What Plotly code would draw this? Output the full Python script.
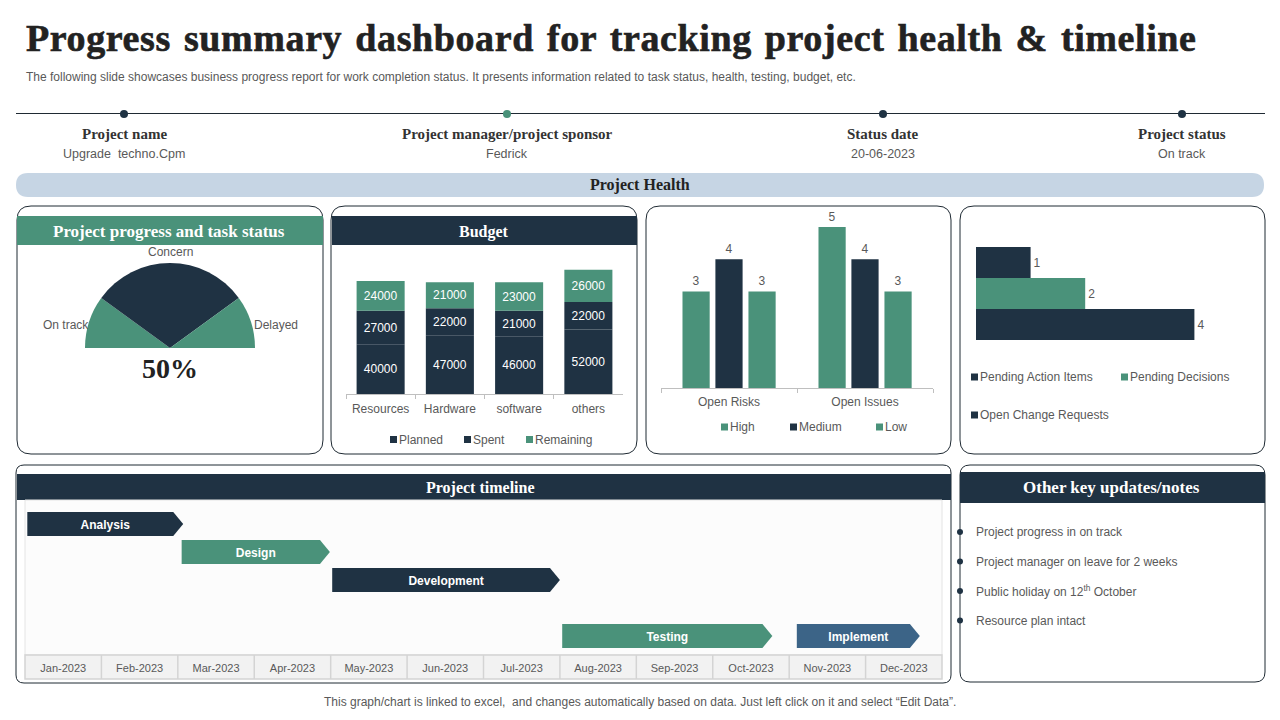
import plotly.graph_objects as go

NAVY = '#1f3243'
GREEN = '#4a927a'
BLUE = '#3c6487'
GREY = '#595959'
SANS = 'Liberation Sans'
SERIF = 'Liberation Serif'

# gauge
gauge_labels = ['On track', 'Concern', 'Delayed', '']
gauge_values = [20, 60, 20, 100]

# budget
budget_cats = ['Resources', 'Hardware', 'software', 'others']
planned = [40000, 47000, 46000, 52000]
spent = [27000, 22000, 21000, 22000]
remaining = [24000, 21000, 23000, 26000]

# risks and issues
risk_cats = ['Open Risks', 'Open Issues']
risk_high = [3, 5]
risk_medium = [4, 4]
risk_low = [3, 3]

# pending items
pending_cats = ['Pending Action Items', 'Pending Decisions', 'Open Change Requests']
pending_values = [1, 2, 4]

# timeline, in months from the start of Jan-2023
months = ['Jan-2023', 'Feb-2023', 'Mar-2023', 'Apr-2023', 'May-2023', 'Jun-2023',
          'Jul-2023', 'Aug-2023', 'Sep-2023', 'Oct-2023', 'Nov-2023', 'Dec-2023']
tasks = ['Analysis', 'Design', 'Development', 'Testing', 'Implement']
task_start = [0.03, 2.05, 4.02, 7.03, 10.1]
task_end = [2.07, 3.99, 7.0, 9.78, 11.71]
task_row = [0, 1, 2, 4, 4]
task_color = [NAVY, GREEN, NAVY, GREEN, BLUE]

notes = ['Project progress in on track', 'Project manager on leave for 2 weeks',
         'Public holiday on 12<sup>th</sup> October', 'Resource plan intact']
note_y = [532, 561.5, 591, 620.5]

info_x = [124, 507, 883, 1182]
info_dot = [NAVY, GREEN, NAVY, NAVY]
info_head = ['Project name', 'Project manager/project sponsor', 'Status date', 'Project status']
info_value = ['Upgrade  techno.Cpm', 'Fedrick', '20-06-2023', 'On track']


def fx(v):
    return v / 1280


def fy(v):
    return 1 - v / 720


shapes = []
annots = []


def text(x, y, s, size=12, color=GREY, family=SANS, anchor='center'):
    # annotations carry about 2px of padding on the anchored side
    if anchor == 'left':
        x -= 2
    if anchor == 'right':
        x += 2
    annots.append(dict(x=fx(x), y=fy(y), xref='paper', yref='paper', text=s, showarrow=False,
                       xanchor=anchor, yanchor='middle', align=anchor,
                       font=dict(family=family, size=size, color=color)))


def rect(x0, y0, x1, y1, fill, line=None, width=1):
    shapes.append(dict(type='rect', xref='paper', yref='paper', x0=fx(x0), x1=fx(x1), y0=fy(y0), y1=fy(y1),
                       fillcolor=fill, line=dict(color=line, width=width) if line else dict(width=0),
                       layer='below'))


def rounded(x0, y0, x1, y1, r, fill='white', line='#1f2a33', width=1):
    # rounded box as an svg path, in paper fractions
    rx, ry = fx(r), r / 720
    a, b, c, d = fx(x0), fx(x1), fy(y0), fy(y1)
    path = (f'M {a + rx} {c} L {b - rx} {c} Q {b} {c} {b} {c - ry} L {b} {d + ry} Q {b} {d} {b - rx} {d} '
            f'L {a + rx} {d} Q {a} {d} {a} {d + ry} L {a} {c - ry} Q {a} {c} {a + rx} {c} Z')
    shapes.append(dict(type='path', xref='paper', yref='paper', path=path, fillcolor=fill,
                       line=dict(color=line, width=width) if width else dict(width=0), layer='below'))


def dot(x, y, r, color):
    shapes.append(dict(type='circle', xref='paper', yref='paper', x0=fx(x - r), x1=fx(x + r),
                       y0=fy(y + r), y1=fy(y - r), fillcolor=color, line=dict(width=0)))


def legend_item(x, y, color, label):
    rect(x, y - 3.5, x + 7, y + 3.5, color)
    text(x + 9, y, label, anchor='left')


# title block
annots.append(dict(x=fx(24), y=fy(38), xref='paper', yref='paper', showarrow=False, xanchor='left', yanchor='middle',
                   text='<b><span style="letter-spacing:0.6px;word-spacing:3px;stroke:#222222;stroke-width:0.6px">'
                        'Progress summary dashboard for tracking project health &amp; timeline</span></b>',
                   font=dict(family=SERIF, size=38, color='#222222')))
text(26, 77, 'The following slide showcases business progress report for work completion status. It presents '
             'information related to task status, health, testing, budget, etc.', size=12, anchor='left')

shapes.append(dict(type='line', xref='paper', yref='paper', x0=fx(16), x1=fx(1265), y0=fy(113.5), y1=fy(113.5),
                   line=dict(color='#1f2a33', width=1), layer='below'))
for i in range(len(info_x)):
    dot(info_x[i], 114, 4, info_dot[i])
    text(info_x[i], 134, '<b>' + info_head[i] + '</b>', size=15, color='#333333', family=SERIF)
    text(info_x[i], 154, info_value[i], size=12.5)

rounded(16, 173, 1264, 197, 12, fill='#c6d5e4', width=0)
text(640, 185, '<b>Project Health</b>', size=16, color='#222222', family=SERIF)

# panels
rounded(17, 206, 323, 454, 14)
rounded(331, 206, 637, 454, 14)
rounded(646, 206, 951, 454, 14)
rounded(960, 206, 1265, 454, 14)
rounded(16, 465, 951, 683, 8)
rounded(960, 465, 1265, 682, 10)

rect(17, 216, 323, 245, GREEN)
text(169, 231.5, '<b>Project progress and task status</b>', size=17, color='white', family=SERIF)
rect(332, 216, 637, 245, NAVY)
text(484, 231.5, '<b>Budget</b>', size=16, color='white', family=SERIF)
rect(17, 474, 951, 500, NAVY)
text(480, 487.5, '<b>Project timeline</b>', size=16, color='white', family=SERIF)
rect(960, 472, 1265, 503, NAVY)
text(1111, 487.5, '<b>Other key updates/notes</b>', size=17, color='white', family=SERIF)

fig = go.Figure()

# gauge, the lower half of the pie stays invisible
fig.add_trace(go.Pie(labels=gauge_labels, values=gauge_values, sort=False, direction='clockwise', rotation=270,
                     marker=dict(colors=[GREEN, NAVY, GREEN, 'rgba(0,0,0,0)'], line=dict(width=0)),
                     textinfo='none', hoverinfo='skip', showlegend=False,
                     domain=dict(x=[fx(85), fx(255)], y=[fy(433), fy(263)])))
text(170, 252.5, 'Concern')
text(89, 325, 'On track', anchor='right')
text(254, 325, 'Delayed', anchor='left')
text(169.5, 369, '<b>50%</b>', size=28, color='#222222', family=SERIF)

# budget bars, stacked through base because the figure is in group mode for the risk chart
base = [0, 0, 0, 0]
for vals, color in [(planned, NAVY), (spent, NAVY), (remaining, GREEN)]:
    fig.add_trace(go.Bar(x=budget_cats, y=vals, base=base, width=0.694, offset=-0.347, text=vals,
                         textposition='inside', insidetextanchor='middle', textangle=0,
                         textfont=dict(family=SANS, size=12, color='white'), marker_color=color,
                         marker_line_width=0, xaxis='x', yaxis='y', showlegend=False))
    base = [base[i] + vals[i] for i in range(4)]
legend_item(390, 439.5, NAVY, 'Planned')
legend_item(464, 439.5, NAVY, 'Spent')
legend_item(526, 439.5, GREEN, 'Remaining')

# risks and issues
for vals, color, off in [(risk_high, GREEN, -0.342), (risk_medium, NAVY, -0.1), (risk_low, GREEN, 0.143)]:
    fig.add_trace(go.Bar(x=risk_cats, y=vals, width=0.2, offset=off, text=vals, textposition='outside', cliponaxis=False,
                         textfont=dict(family=SANS, size=12, color=GREY), marker_color=color,
                         marker_line_width=0, xaxis='x2', yaxis='y2', showlegend=False))
legend_item(721, 427, GREEN, 'High')
legend_item(790, 427, NAVY, 'Medium')
legend_item(876, 427, GREEN, 'Low')

# pending items
fig.add_trace(go.Bar(y=pending_cats, x=pending_values, orientation='h', width=1, text=pending_values,
                     textposition='outside', cliponaxis=False, textfont=dict(family=SANS, size=12, color=GREY),
                     marker_color=[NAVY, GREEN, NAVY], marker_line_width=0, xaxis='x3', yaxis='y3', showlegend=False))
legend_item(971, 377, NAVY, 'Pending Action Items')
legend_item(1121, 377, GREEN, 'Pending Decisions')
legend_item(971, 415, NAVY, 'Open Change Requests')

# timeline arrows
tip = 0.13
half = 0.43
for i in range(len(tasks)):
    s, e, r = task_start[i], task_end[i], task_row[i]
    fig.add_trace(go.Scatter(x=[s, e - tip, e, e - tip, s, s], y=[r - half, r - half, r, r + half, r + half, r - half],
                             mode='lines', fill='toself', fillcolor=task_color[i], line=dict(width=0),
                             xaxis='x4', yaxis='y4', showlegend=False, hoverinfo='skip'))
fig.add_trace(go.Scatter(x=[(task_start[i] + task_end[i]) / 2 for i in range(len(tasks))],
                         y=[r + 0.06 for r in task_row], text=tasks,
                         mode='text', textposition='middle center', cliponaxis=False,
                         textfont=dict(family=SANS, size=12, color='white', weight='bold'),
                         xaxis='x4', yaxis='y4', showlegend=False))

rect(25, 500, 942, 655, '#fcfcfc', '#e4e4e4')
rect(25, 655, 942, 679, '#f2f2f2', '#d4d4d4', 1.5)
for i in range(1, len(months)):
    shapes.append(dict(type='line', xref='x4', yref='paper', x0=i, x1=i, y0=fy(655), y1=fy(679),
                       line=dict(color='#d4d4d4', width=1.5), layer='below'))

# notes
for i in range(len(notes)):
    dot(960, note_y[i], 3, NAVY)
    text(976, note_y[i], notes[i], anchor='left')

text(640, 702, 'This graph/chart is linked to excel,  and changes automatically based on data. '
               'Just left click on it and select “Edit Data”.', size=12)

tickfont = dict(family=SANS, size=12, color=GREY)
fig.update_layout(
    width=1280, height=720, margin=dict(l=0, r=0, t=0, b=0), paper_bgcolor='white', plot_bgcolor='rgba(0,0,0,0)',
    barmode='group', hovermode=False, shapes=shapes, annotations=annots,
    xaxis=dict(domain=[fx(346), fx(623)], anchor='y', type='category', tickson='boundaries', ticks='outside', ticklen=4,
               tickcolor='#bfbfbf', showline=True, linecolor='#bfbfbf', showgrid=False, tickfont=tickfont,
               ticklabelstandoff=4),
    yaxis=dict(domain=[fy(394), fy(258)], anchor='x', range=[0, 109500], visible=False),
    xaxis2=dict(domain=[fx(661), fx(933)], anchor='y2', type='category', tickson='boundaries', ticks='outside', ticklen=4,
                tickcolor='#bfbfbf', showline=True, linecolor='#bfbfbf', showgrid=False, tickfont=tickfont,
                ticklabelstandoff=3),
    yaxis2=dict(domain=[fy(388), fy(211)], anchor='x2', range=[0, 5.5], visible=False),
    xaxis3=dict(domain=[fx(976), fx(1249)], anchor='y3', range=[0, 5], visible=False),
    yaxis3=dict(domain=[fy(340), fy(247)], anchor='x3', autorange='reversed', visible=False),
    xaxis4=dict(domain=[fx(25), fx(942)], anchor='y4', range=[0, 12], tickvals=[i + 0.5 for i in range(12)],
                ticktext=months, ticks='', showgrid=False, zeroline=False, ticklabelstandoff=5,
                tickfont=dict(family=SANS, size=11, color=GREY)),
    yaxis4=dict(domain=[fy(655), fy(500)], anchor='x4', range=[4.68, -0.857], visible=False),
)
fig.write_html('out.html', config={'displayModeBar': False},
               post_script="document.body.style.margin='0';document.body.style.overflow='hidden';")
